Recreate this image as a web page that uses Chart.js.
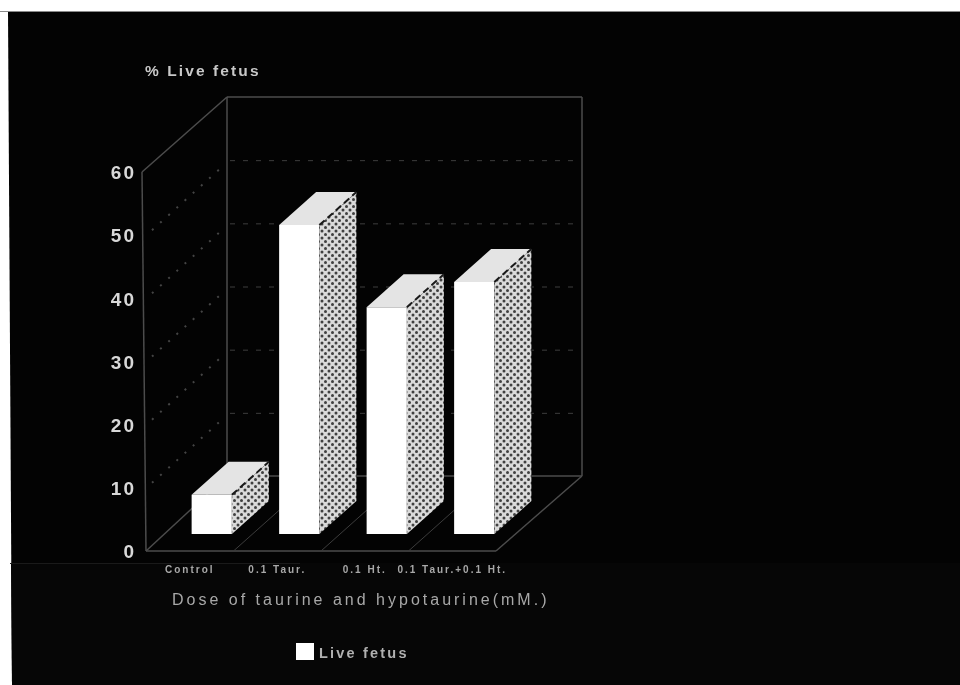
<!DOCTYPE html>
<html>
<head>
<meta charset="utf-8">
<title>Live fetus</title>
<script src="https://cdn.jsdelivr.net/npm/chart.js@4"></script>
<style>
    html, body { margin: 0; padding: 0; background: #fff; }
    canvas { display: block; }
</style>
</head>
<body>
<canvas id="fetusChart" width="960" height="685"></canvas>
<script>
const categories = ['Control', '0.1 Taur.', '0.1 Ht.', '0.1 Taur.+0.1 Ht.'];
const liveFetus = [6.2, 48.9, 35.9, 39.9];
const yTicks = [0, 10, 20, 30, 40, 50, 60];

const yTitle = '% Live fetus';
const xTitle = 'Dose of taurine and hypotaurine(mM.)';
const seriesName = 'Live fetus';

// depth of the box the bars stand in, and of the bars themselves
const WALL_DX = 84, WALL_DY = -75;
const BAR_SHIFT_X = 22, BAR_SHIFT_Y = -17;
const BAR_DX = 37, BAR_DY = -33;

const FONT = '"Liberation Sans", Arial, sans-serif';

function dotPattern(ctx) {
    const tile = document.createElement('canvas');
    tile.width = 7;
    tile.height = 7;
    const t = tile.getContext('2d');
    t.fillStyle = '#dadada';
    t.fillRect(0, 0, 7, 7);
    t.fillStyle = '#404040';
    [[0, 0], [7, 0], [0, 7], [7, 7], [3.5, 3.5]].forEach(([x, y]) => {
        t.beginPath();
        t.arc(x, y, 1.5, 0, Math.PI * 2);
        t.fill();
    });
    return ctx.createPattern(tile, 'repeat');
}

function poly(ctx, pts) {
    ctx.beginPath();
    pts.forEach(([x, y], i) => i ? ctx.lineTo(x, y) : ctx.moveTo(x, y));
    ctx.closePath();
}

function line(ctx, x1, y1, x2, y2) {
    ctx.beginPath();
    ctx.moveTo(x1, y1);
    ctx.lineTo(x2, y2);
    ctx.stroke();
}

function label(ctx, text, x, y, font, color, spacing) {
    ctx.save();
    ctx.font = font;
    ctx.fillStyle = color;
    ctx.letterSpacing = spacing + 'px';
    ctx.textAlign = 'left';
    ctx.textBaseline = 'middle';
    ctx.fillText(text, x, y);
    ctx.restore();
}

const backdrop = {
    id: 'backdrop',
    beforeDraw(chart) {
        const ctx = chart.ctx;
        // tick labels are spaced out a little
        ctx.letterSpacing = '2px';

        ctx.save();
        ctx.fillStyle = '#030303';
        poly(ctx, [[8, 11], [960, 11], [960, 685], [12, 685]]);
        ctx.fill();
        // slightly lighter band under the chart
        ctx.fillStyle = '#060606';
        poly(ctx, [[11, 563], [960, 563], [960, 685], [12, 685]]);
        ctx.fill();
        ctx.strokeStyle = '#8a8a8a';
        ctx.lineWidth = 1;
        line(ctx, 0, 11.5, 960, 11.5);
        ctx.strokeStyle = '#1a1a1a';
        line(ctx, 10, 563.5, 300, 563.5);
        ctx.restore();
    }
};

const box3d = {
    id: 'box3d',
    beforeDatasetsDraw(chart) {
        const ctx = chart.ctx;
        const { x: xs, y: ys } = chart.scales;
        const top = ys.getPixelForValue(60);
        const base = ys.getPixelForValue(0);
        const left = xs.left, right = xs.right;
        const topLeft = left - 4;

        ctx.save();
        ctx.strokeStyle = '#4c4c4c';
        ctx.lineWidth = 1.5;

        // frame: left wall, back wall, floor
        line(ctx, topLeft, top, left, base);
        line(ctx, topLeft, top, left + WALL_DX - 3, top + WALL_DY);
        line(ctx, left + WALL_DX - 3, top + WALL_DY, right + WALL_DX + 2, top + WALL_DY);
        line(ctx, left + WALL_DX - 3, top + WALL_DY, left + WALL_DX - 3, base + WALL_DY);
        line(ctx, right + WALL_DX + 2, top + WALL_DY, right + WALL_DX + 2, base + WALL_DY);
        line(ctx, left + WALL_DX - 3, base + WALL_DY, right + WALL_DX + 2, base + WALL_DY);
        line(ctx, left, base, right, base);
        line(ctx, right, base, right + WALL_DX + 2, base + WALL_DY);
        line(ctx, left, base, left + WALL_DX - 3, base + WALL_DY);

        // floor dividers between the categories
        ctx.lineWidth = 1;
        ctx.strokeStyle = '#3c3c3c';
        const slot = (right - left) / categories.length;
        for (let i = 1; i < categories.length; i++) {
            const fx = left + slot * i;
            line(ctx, fx, base, fx + WALL_DX, base + WALL_DY);
        }

        // dotted grid on left wall, dashed on back wall
        yTicks.slice(1, -1).forEach((v) => {
            const gy = ys.getPixelForValue(v);
            ctx.strokeStyle = '#444444';
            ctx.lineWidth = 2;
            ctx.setLineDash([2, 9]);
            line(ctx, left + 6, gy - 5, left + WALL_DX - 6, gy + WALL_DY + 5);
            ctx.strokeStyle = '#3e3e3e';
            ctx.lineWidth = 1;
            ctx.setLineDash([5, 8]);
            line(ctx, left + WALL_DX, gy + WALL_DY + 0.5, right + WALL_DX - 4, gy + WALL_DY + 0.5);
            ctx.setLineDash([]);
        });
        ctx.restore();

        // bars stand part way back on the floor
        ctx.save();
        ctx.translate(BAR_SHIFT_X, BAR_SHIFT_Y);
    },
    afterDatasetsDraw(chart) {
        const ctx = chart.ctx;
        ctx.restore();

        const pattern = dotPattern(ctx);
        chart.getDatasetMeta(0).data.forEach((bar) => {
            const props = bar.getProps(['x', 'y', 'base', 'width'], true);
            const x1 = props.x - props.width / 2 + BAR_SHIFT_X;
            const x2 = props.x + props.width / 2 + BAR_SHIFT_X;
            const y1 = props.y + BAR_SHIFT_Y;
            const y2 = props.base + BAR_SHIFT_Y;

            ctx.save();
            // side face
            ctx.fillStyle = pattern;
            poly(ctx, [[x2, y1], [x2 + BAR_DX, y1 + BAR_DY], [x2 + BAR_DX, y2 + BAR_DY], [x2, y2]]);
            ctx.fill();
            // top face
            ctx.fillStyle = '#e4e4e4';
            poly(ctx, [[x1, y1], [x1 + BAR_DX, y1 + BAR_DY], [x2 + BAR_DX, y1 + BAR_DY], [x2, y1]]);
            ctx.fill();
            // dashed edge between top and side
            ctx.strokeStyle = '#1a1a1a';
            ctx.lineWidth = 2;
            ctx.setLineDash([7, 4]);
            line(ctx, x2, y1, x2 + BAR_DX, y1 + BAR_DY);
            ctx.restore();
        });
    },
    afterDraw(chart) {
        const ctx = chart.ctx;
        label(ctx, yTitle, 145, 72, 'bold 15.5px ' + FONT, '#c8c8c8', 2.1);
        label(ctx, xTitle, 172, 601, '16px ' + FONT, '#a8a8a8', 3.0);

        // legend
        ctx.save();
        ctx.fillStyle = '#ffffff';
        ctx.fillRect(296, 643, 18, 17);
        ctx.restore();
        label(ctx, seriesName, 319, 654, 'bold 14.5px ' + FONT, '#b0b0b0', 2.2);
    }
};

new Chart(document.getElementById('fetusChart'), {
    type: 'bar',
    data: {
        labels: categories,
        datasets: [{
            label: seriesName,
            data: liveFetus,
            backgroundColor: '#ffffff',
            borderWidth: 0,
            barPercentage: 0.46,
            categoryPercentage: 1.0,
            clip: false
        }]
    },
    options: {
        responsive: false,
        animation: false,
        events: [],
        layout: {
            padding: { left: 96, right: 464, top: 172, bottom: 104 }
        },
        plugins: {
            legend: { display: false },
            tooltip: { enabled: false }
        },
        scales: {
            x: {
                grid: { display: false },
                border: { display: false },
                afterFit: (scale) => { scale.height = 30; },
                ticks: {
                    autoSkip: false,
                    maxRotation: 0,
                    minRotation: 0,
                    padding: 5,
                    color: '#a8a8a8',
                    font: { family: FONT, size: 10, weight: 'bold' }
                }
            },
            y: {
                min: 0,
                max: 60,
                grid: { display: false },
                border: { display: false },
                afterFit: (scale) => { scale.width = 50; },
                afterBuildTicks: (scale) => { scale.ticks = yTicks.map((v) => ({ value: v })); },
                ticks: {
                    padding: 2,
                    labelOffset: 2,
                    color: '#d8d8d8',
                    font: { family: FONT, size: 19, weight: 'bold' }
                }
            }
        }
    },
    plugins: [backdrop, box3d]
});
</script>
</body>
</html>
